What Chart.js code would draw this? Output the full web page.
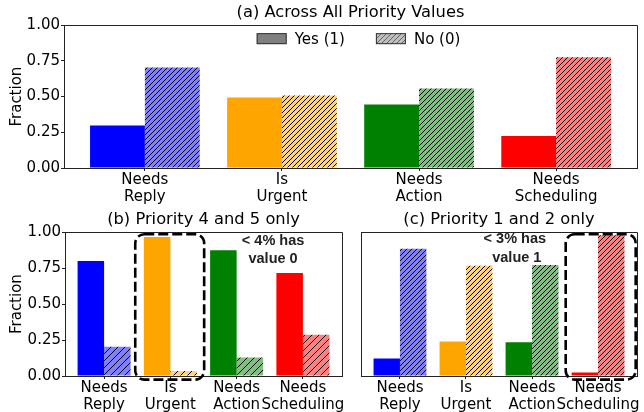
<!DOCTYPE html>
<html>
<head>
<meta charset="utf-8">
<script src="https://cdn.jsdelivr.net/npm/chart.js@4.4.1/dist/chart.umd.min.js"></script>
<style>
  html, body { margin: 0; padding: 0; background: #fff; }
  body { position: relative; width: 644px; height: 412px; overflow: hidden; }
  canvas { position: absolute; }
</style>
</head>
<body>
<canvas id="chart-all" width="644" height="206" style="left:0;top:0"></canvas>
<canvas id="chart-high" width="350" height="206" style="left:0;top:206px"></canvas>
<canvas id="chart-low" width="304" height="206" style="left:340px;top:206px"></canvas>
<script>
// data
const categories = [["Needs", "Reply"], ["Is", "Urgent"], ["Needs", "Action"], ["Needs", "Scheduling"]];
const yTicks = [0, 0.25, 0.5, 0.75, 1.0];
const colors = ["#0000ff", "#ffa500", "#008000", "#ff0000"];
const seriesLabels = ["Yes (1)", "No (0)"];

const allYes = [0.298, 0.493, 0.444, 0.224];
const allNo = [0.704, 0.507, 0.556, 0.776];
const highYes = [0.800, 0.966, 0.875, 0.716];
const highNo = [0.204, 0.034, 0.128, 0.287];
const lowYes = [0.122, 0.240, 0.235, 0.024];
const lowNo = [0.884, 0.766, 0.772, 0.978];

Chart.defaults.font.family = "'DejaVu Sans'";
Chart.defaults.color = "#000";

const font = { family: "'DejaVu Sans'", size: 15 };
const axisColor = "#222";

function hatch(color, size, lineColor = "#000") {
  const c = document.createElement("canvas");
  c.width = size;
  c.height = size;
  const g = c.getContext("2d");
  g.globalAlpha = 0.5;
  g.fillStyle = color;
  g.fillRect(0, 0, size, size);
  g.globalAlpha = 1;
  g.strokeStyle = lineColor;
  g.lineWidth = 1;
  g.beginPath();
  g.moveTo(0, size); g.lineTo(size, 0);
  g.moveTo(-1, 1); g.lineTo(1, -1);
  g.moveTo(size - 1, size + 1); g.lineTo(size + 1, size - 1);
  g.stroke();
  return g.createPattern(c, "repeat");
}

function points(values) {
  return values.map((v, i) => ({ x: i, y: v }));
}

// top + right spines
const framePlugin = {
  id: "frame",
  afterDatasetsDraw(chart) {
    const { ctx, chartArea: a } = chart;
    ctx.save();
    ctx.strokeStyle = axisColor;
    ctx.lineWidth = 1;
    ctx.beginPath();
    ctx.moveTo(Math.round(a.left), Math.round(a.top) + 0.5);
    ctx.lineTo(Math.round(a.right) + 0.5, Math.round(a.top) + 0.5);
    ctx.lineTo(Math.round(a.right) + 0.5, Math.round(a.bottom));
    ctx.stroke();
    ctx.restore();
  },
};

// dashed highlight box and bold note
const notePlugin = {
  id: "note",
  afterDraw(chart, args, opts) {
    if (!opts || !opts.box) return;
    const { ctx, scales } = chart;
    const [x0, x1, y0, y1] = opts.box;
    const l = scales.x.getPixelForValue(x0), r = scales.x.getPixelForValue(x1);
    const t = scales.y.getPixelForValue(y1), b = scales.y.getPixelForValue(y0);
    ctx.save();
    ctx.strokeStyle = "#000";
    ctx.lineWidth = 2.6;
    ctx.setLineDash([10, 4]);
    ctx.beginPath();
    ctx.roundRect(l, t, r - l, b - t, 9);
    ctx.stroke();
    ctx.setLineDash([]);
    ctx.fillStyle = "#222";
    ctx.font = "bold 14.5px 'Liberation Sans'";
    ctx.textAlign = "center";
    ctx.textBaseline = "middle";
    opts.lines.forEach((txt, i) => {
      const [x, y] = opts.at[i];
      ctx.fillText(txt, scales.x.getPixelForValue(x), scales.y.getPixelForValue(y));
    });
    ctx.restore();
  },
};

// legend drawn inside the plot area, top centre
const keyPlugin = {
  id: "keyBox",
  afterDraw(chart, args, opts) {
    if (!opts || !opts.show) return;
    const { ctx, chartArea: a } = chart;
    ctx.save();
    ctx.font = "15px 'DejaVu Sans'";
    const fills = ["#808080", hatch("#808080", 5, "#666")];
    const widths = seriesLabels.map(s => 38 + ctx.measureText(s).width);
    const total = widths.reduce((p, w) => p + w, 0) + 31 * (widths.length - 1);
    let x = (a.left + a.right) / 2 - total / 2 + 8;
    const yc = a.top + 13.5;
    seriesLabels.forEach((s, i) => {
      ctx.fillStyle = fills[i];
      ctx.fillRect(x, yc - 5.5, 30, 11);
      ctx.strokeStyle = "#333";
      ctx.lineWidth = 1;
      ctx.strokeRect(x + 0.5, yc - 5, 29, 10);
      ctx.fillStyle = "#000";
      ctx.textBaseline = "middle";
      ctx.fillText(s, x + 38, yc + 1);
      x += widths[i] + 31;
    });
    ctx.restore();
  },
};

function makeChart(id, cfg) {
  return new Chart(document.getElementById(id), {
    type: "bar",
    data: {
      datasets: [
        { label: seriesLabels[0], data: points(cfg.yes), backgroundColor: colors,
          categoryPercentage: 0.8, barPercentage: 1 },
        { label: seriesLabels[1], data: points(cfg.no), backgroundColor: colors.map(c => hatch(c, cfg.hatch)),
          categoryPercentage: 0.8, barPercentage: 1 },
      ],
    },
    options: {
      responsive: false,
      animation: false,
      events: [],
      layout: { padding: { left: 0, right: cfg.padRight, top: 0, bottom: 0 } },
      plugins: {
        legend: { display: false },
        tooltip: { enabled: false },
        title: {
          display: true, text: cfg.title, fullSize: false, color: "#000",
          font: { family: "'DejaVu Sans'", size: 16.3, weight: "normal" },
          padding: { top: cfg.titleTop, bottom: cfg.titleBottom },
        },
        note: cfg.note || {},
        keyBox: { show: !!cfg.key },
      },
      scales: {
        x: {
          type: "linear", min: -0.59, max: 3.59, offset: false,
          afterBuildTicks: s => { s.ticks = categories.map((_, i) => ({ value: i })); },
          ticks: { callback: v => categories[v], font: { ...font, lineHeight: 1.15 }, color: "#000",
                   padding: 0, maxRotation: 0, autoSkip: false },
          grid: { drawOnChartArea: false, offset: false, tickLength: 3, color: axisColor },
          border: { color: axisColor, width: 1 },
          afterFit: s => { s.height = cfg.xHeight; },
        },
        y: {
          min: 0, max: 1,
          afterBuildTicks: s => { s.ticks = yTicks.map(v => ({ value: v })); },
          ticks: { display: cfg.yLabels, callback: v => v.toFixed(2), font, color: "#000", padding: 1 },
          grid: { drawOnChartArea: false, drawTicks: cfg.yLabels, tickLength: 3, color: axisColor },
          border: { color: axisColor, width: 1 },
          title: { display: cfg.yLabels, text: "Fraction", font, color: "#000", padding: { top: 8, bottom: 0 } },
          afterFit: s => { s.width = cfg.yWidth; },
        },
      },
    },
    plugins: [framePlugin, notePlugin, keyPlugin],
  });
}

makeChart("chart-all", {
  title: "(a) Across All Priority Values", yes: allYes, no: allNo, hatch: 5, key: true,
  yLabels: true, yWidth: 64, xHeight: 38, padRight: 7, titleTop: 3, titleBottom: 2.6,
});

makeChart("chart-high", {
  title: "(b) Priority 4 and 5 only", yes: highYes, no: highNo, hatch: 7,
  yLabels: true, yWidth: 65, xHeight: 36, padRight: 8, titleTop: 4, titleBottom: 2.6,
  note: { box: [0.47, 1.51, -0.025, 0.985], lines: ["< 4% has", "value 0"], at: [[2.55, 0.94], [2.55, 0.815]] },
});

makeChart("chart-low", {
  title: "(c) Priority 1 and 2 only", yes: lowYes, no: lowNo, hatch: 5,
  yLabels: false, yWidth: 21, xHeight: 36, padRight: 7, titleTop: 4, titleBottom: 2.6,
  note: { box: [2.51, 3.57, -0.025, 0.985], lines: ["< 3% has", "value 1"], at: [[1.74, 0.95], [1.77, 0.82]] },
});
</script>
</body>
</html>
